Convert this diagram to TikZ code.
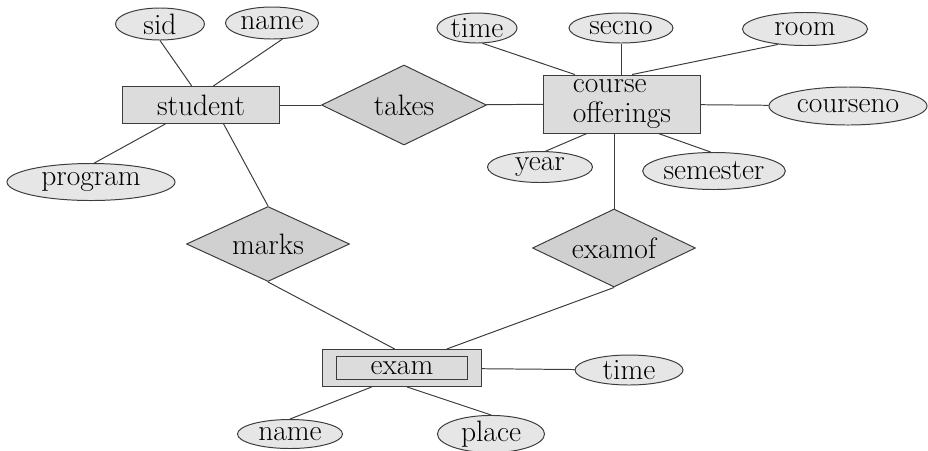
\documentclass[tikz,border=0pt]{standalone}
\usepackage{xcolor}
\usepackage{tikz}
\usetikzlibrary{shapes.geometric}

\definecolor{attrfill}{RGB}{230,230,230}
\definecolor{entfill}{RGB}{220,220,220}
\definecolor{relfill}{RGB}{208,208,208}
\definecolor{edgecol}{RGB}{60,60,60}

\begin{document}
\begin{tikzpicture}[
  x=0.025cm, y=-0.025cm,
  every node/.style={font=\fontsize{21}{22}\selectfont, draw=edgecol, line width=0.7pt, inner sep=0pt},
  ent/.style={rectangle, fill=entfill},
  rel/.style={diamond, aspect=2, fill=relfill},
  attr/.style={ellipse, fill=attrfill},
  lnk/.style={draw=edgecol, line width=0.7pt}
]
\useasboundingbox (0,0) rectangle (928,450);

% entities
\node[ent, minimum width=3.925cm, minimum height=0.925cm] (student) at (201,105) {student};
\node[ent, minimum width=3.9cm, minimum height=1.45cm, align=left] (course) at (622,104) {course\\offerings};
\node[ent, minimum width=3.975cm, minimum height=0.925cm] (exam) at (402,368) {};
\node[ent, minimum width=3.25cm, minimum height=0.575cm] (examin) at (exam) {exam};

% relationships
\node[rel, minimum width=4.125cm, minimum height=2cm] (takes) at (404,105) {takes};
\node[rel, minimum width=4.075cm, minimum height=1.875cm] (marks) at (268,244) {marks};
\node[rel, minimum width=4.075cm, minimum height=1.95cm] (examof) at (614,248) {examof};

% attributes
\node[attr, minimum width=2.225cm, minimum height=0.8cm] (sid) at (160,24) {sid};
\node[attr, minimum width=2.325cm, minimum height=0.8cm] (sname) at (272,23) {name};
\node[attr, minimum width=4.2cm, minimum height=0.925cm] (program) at (91,182) {program};
\node[attr, minimum width=2cm, minimum height=0.75cm] (ctime) at (477,28) {time};
\node[attr, minimum width=2.6cm, minimum height=0.75cm] (secno) at (621,28) {secno};
\node[attr, minimum width=3.125cm, minimum height=0.825cm] (room) at (805,29) {room};
\node[attr, minimum width=3.95cm, minimum height=0.95cm] (courseno) at (848,106) {courseno};
\node[attr, minimum width=2.625cm, minimum height=0.775cm] (year) at (540,167) {year};
\node[attr, minimum width=3.55cm, minimum height=0.925cm] (semester) at (714,171) {semester};
\node[attr, minimum width=2.7cm, minimum height=0.75cm] (etime) at (629,370) {time};
\node[attr, minimum width=2.625cm, minimum height=0.725cm] (ename) at (290,434) {name};
\node[attr, minimum width=2.675cm, minimum height=0.75cm] (place) at (491,434) {place};

% links
\draw[lnk] (sid.south) -- (student.116);
\draw[lnk] (sname.-57) -- (student.57);
\draw[lnk] (program.80) -- (student.-152);
\draw[lnk] (student) -- (takes);
\draw[lnk] (takes) -- (course);
\draw[lnk] (ctime.-70) -- (course.148);
\draw[lnk] (secno.south) -- (secno.south |- course.north);
\draw[lnk] (room.-150) -- (course.71);
\draw[lnk] (course) -- (courseno);
\draw[lnk] (year.70) -- (course.-140);
\draw[lnk] (semester.100) -- (course.-39);
\draw[lnk] (student.-40) -- (marks.north);
\draw[lnk] (examof.north |- course.south) -- (examof.north);
\draw[lnk] (marks.south) -- (exam.111);
\draw[lnk] (examof.south) -- (exam.23);
\draw[lnk] (exam) -- (etime);
\draw[lnk] (exam.-148) -- (ename.north);
\draw[lnk] (exam.-75) -- (place.north);
\end{tikzpicture}
\end{document}
